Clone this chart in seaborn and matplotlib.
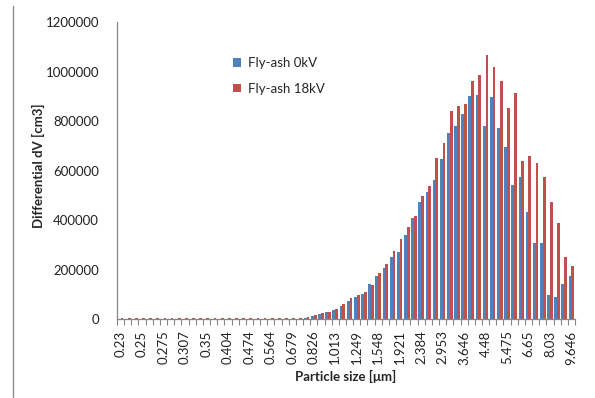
import numpy as np
import pandas as pd
import matplotlib
matplotlib.use("Agg")
import matplotlib.pyplot as plt
from matplotlib.lines import Line2D
from matplotlib.ticker import FixedLocator, NullFormatter
import seaborn as sns

# Particle-size bins (64 bins); every third bin carries a size label
tick_labels = ["0.23", "0.25", "0.275", "0.307", "0.35", "0.404", "0.474", "0.564",
               "0.679", "0.826", "1.013", "1.249", "1.548", "1.921", "2.384", "2.953",
               "3.646", "4.48", "5.475", "6.65", "8.03", "9.646"]
n_bins = 64
bins = list(range(n_bins))

series_names = ["Fly-ash 0kV", "Fly-ash 18kV"]

# Differential volume per bin
fly_ash_0kv = [
    3000, 3000, 3000, 3000, 3000, 3000, 3000, 3000, 3000, 3000,
    3000, 3000, 3000, 3000, 3000, 3000, 3000, 3000, 3000, 3000,
    3000, 3000, 3000, 3000, 3000, 3000, 7000, 14000, 23000, 28000,
    39000, 55000, 74000, 92000, 104000, 142000, 173000, 208000, 250000, 272000,
    341000, 407000, 473000, 514000, 561000, 649000, 750000, 781000, 827000, 900000,
    904000, 781000, 896000, 773000, 696000, 542000, 576000, 434000, 308000, 308000,
    100000, 88000, 143000, 173000,
]
fly_ash_18kv = [
    3500, 3500, 3500, 3500, 3500, 3500, 3500, 3500, 3500, 3500,
    3500, 3500, 3500, 3500, 3500, 3500, 3500, 3500, 3500, 3500,
    3500, 3500, 3500, 3500, 3500, 4000, 8000, 16000, 27000, 31000,
    42000, 62000, 85000, 100000, 111000, 138000, 188000, 223000, 277000, 324000,
    372000, 418000, 499000, 540000, 653000, 711000, 842000, 861000, 869000, 960000,
    985000, 1068000, 1018000, 960000, 854000, 915000, 638000, 661000, 630000, 576000,
    472000, 389000, 250000, 214000,
]

df = pd.DataFrame({
    "bin": bins * 2,
    "series": [series_names[0]] * n_bins + [series_names[1]] * n_bins,
    "value": fly_ash_0kv + fly_ash_18kv,
})

sns.set_theme(style="white")
plt.rcParams["font.family"] = ["Lato", "DejaVu Sans"]

axis_gray = "#868686"
palette = {series_names[0]: "#4F81BD", series_names[1]: "#C0504D"}

fig = plt.figure(figsize=(5.95, 3.98), dpi=100)
ax = fig.add_axes([117 / 595, 1 - 319.3 / 398, 458 / 595, 297.3 / 398])

sns.barplot(data=df, x="bin", y="value", hue="series", order=bins,
            hue_order=series_names, palette=palette, width=0.78,
            saturation=1, errorbar=None, linewidth=0, ax=ax)

ax.set_xlim(-0.5, n_bins - 0.5)
ax.set_ylim(0, 1200000)

# y axis
yticks = np.arange(0, 1200001, 200000)
ax.set_yticks(yticks)
ax.set_yticklabels([f"{v:d}" for v in yticks])
ax.tick_params(axis="y", which="major", direction="out", length=4, width=0.8,
               color=axis_gray, pad=9, labelsize=9.5, labelcolor="#222222")

# x axis: labels every third bin, tick marks at every bin boundary
label_pos = list(range(0, n_bins, 3))
ax.set_xticks(label_pos)
ax.set_xticklabels(tick_labels, rotation=90, va="top", ha="center")
ax.xaxis.set_minor_locator(FixedLocator(np.arange(-0.5, n_bins, 1.0)))
ax.xaxis.set_minor_formatter(NullFormatter())
ax.tick_params(axis="x", which="major", length=0, pad=8, labelsize=9.5,
               labelcolor="#222222")
ax.tick_params(axis="x", which="minor", direction="out", length=4, width=0.8,
               color=axis_gray, bottom=True)

for side in ["top", "right"]:
    ax.spines[side].set_visible(False)
for side in ["left", "bottom"]:
    ax.spines[side].set_color(axis_gray)
    ax.spines[side].set_linewidth(0.9)

ax.set_xlabel("Particle size [μm]", fontsize=9.5, fontweight="bold")
ax.set_ylabel("Differential dV [cm3]", fontsize=9.5, fontweight="bold")
ax.xaxis.set_label_coords(0.5, -0.172)
ax.yaxis.set_label_coords(-0.158, 0.516)

handles, labels = ax.get_legend_handles_labels()
ax.legend(handles, labels, loc="upper left",
          bbox_to_anchor=(233 / 595, 1 - 57 / 398), bbox_transform=fig.transFigure,
          frameon=False, fontsize=9.5, handlelength=0.6, handleheight=0.6,
          handletextpad=0.5, labelspacing=1.05, borderpad=0, borderaxespad=0)

# thin border line at the left edge of the figure
fig.add_artist(Line2D([12.5 / 595, 12.5 / 595], [1 - 397 / 398, 1 - 6 / 398],
                      transform=fig.transFigure, color="#8c8c8c", linewidth=1.0))

fig.savefig("out.png", dpi=100)
